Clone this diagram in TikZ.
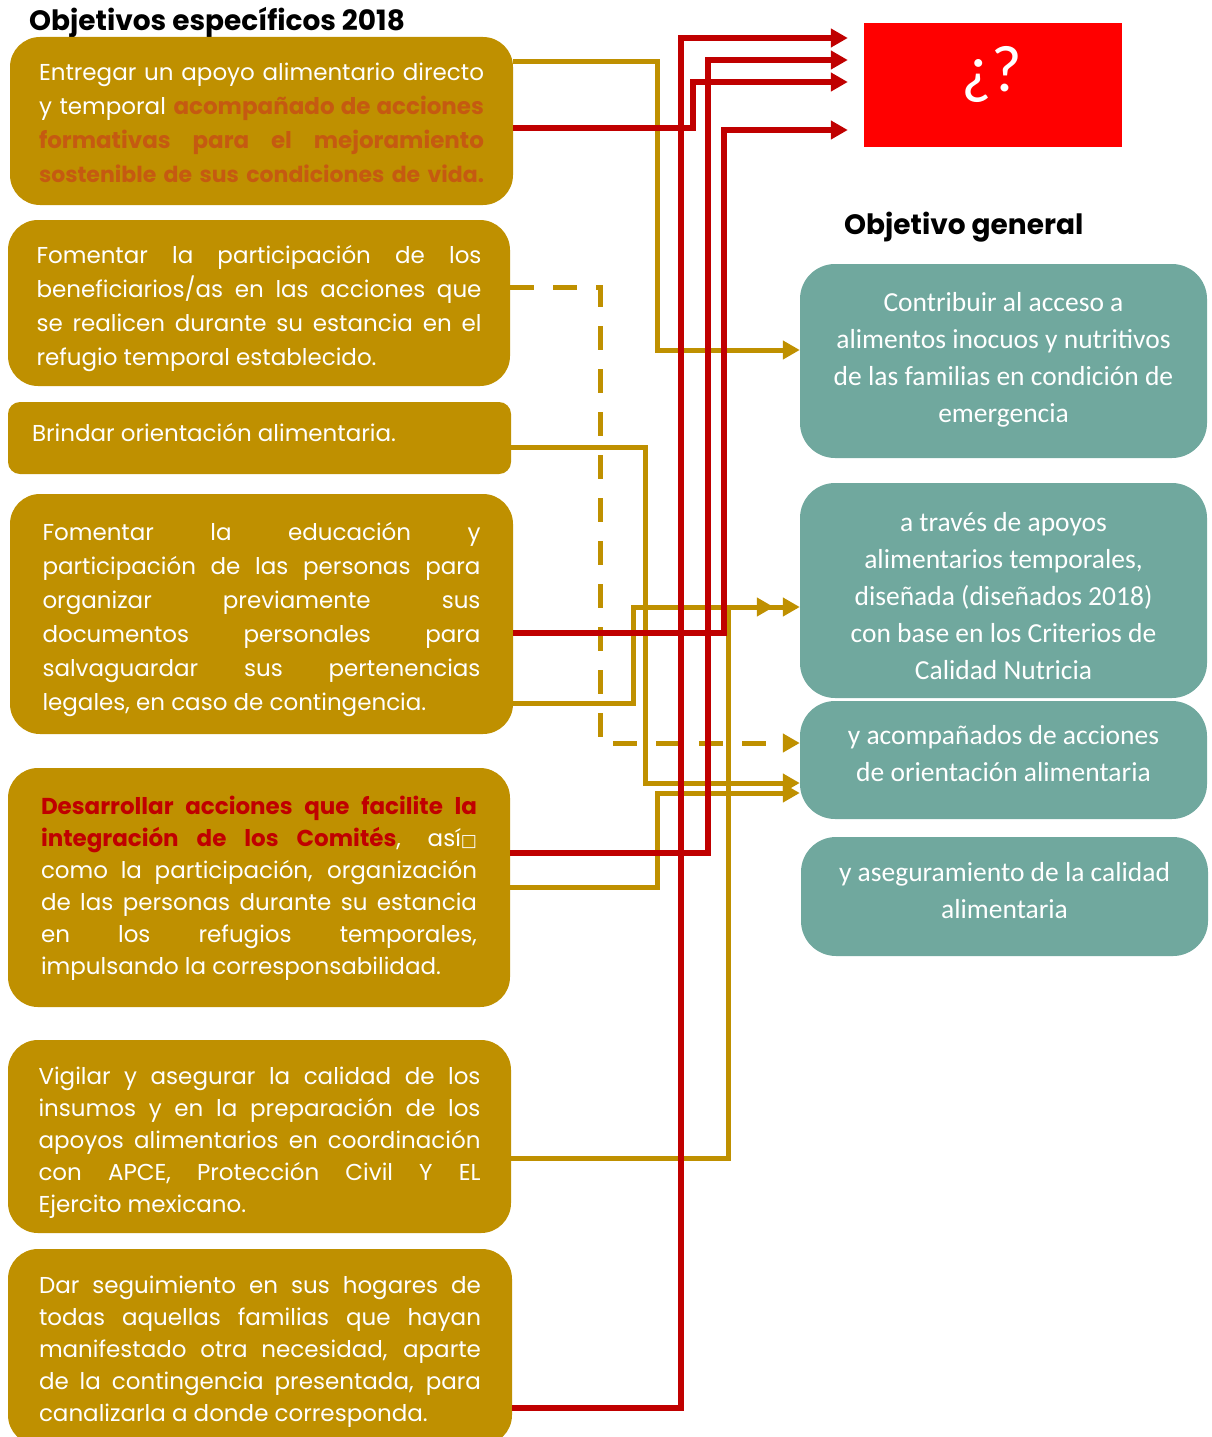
\documentclass[tikz,border=0pt]{standalone}
\usepackage{fontspec}
\setmainfont{Poppins}
\newfontfamily\calib{Carlito}
\newfontfamily\djv{DejaVu Sans}
\usetikzlibrary{arrows.meta}
\definecolor{gold}{HTML}{BF9000}
\definecolor{teal2}{HTML}{70A89E}
\definecolor{dred}{HTML}{C00000}
\definecolor{orng}{HTML}{C55A11}
\newcommand\jl[1]{\makebox[\linewidth][s]{#1}\\}
\newcommand\jlast[1]{\makebox[\linewidth][s]{#1}}
% centred teal text: #1 space above, #2 space below, #3 lines
\newcommand\tealtext[3]{\parbox{400pt}{\centering\vspace*{#1}#3\par\vspace*{#2}}}
\tikzset{
  gbox/.style={fill=gold, rounded corners=30pt, inner sep=0pt, text=white},
  tbox/.style={fill=teal2, rounded corners=35pt, inner sep=0pt, text=white,
    font=\calib\fontsize{27.5}{37}\selectfont},
  tip/.style={-{Triangle[length=17pt,width=18pt]}},
  gline/.style={draw=gold, line width=5pt, tip},
  rline/.style={draw=dred, line width=6pt, tip},
  ttl/.style={font=\bfseries\fontsize{28}{30}\selectfont, text=black, inner sep=0pt, anchor=base west},
  gt/.style={font=\fontsize{23}{34}\selectfont},
  gts/.style={font=\fontsize{23}{32}\selectfont},
}
\begin{document}
\begin{tikzpicture}[x=1pt,y=-1pt]
\useasboundingbox (0,0) rectangle (1211,1437);

% titles
\node[ttl] (title1) at (29,31) {Objetivos específicos 2018};
\node[ttl] (title2) at (844,234) {Objetivo general};

% golden boxes
\node[gbox, gt, minimum width=503pt, minimum height=168pt] (b1) at (261.5,121) {\parbox{445pt}{\vspace*{3pt}%
\jl{Entregar un apoyo alimentario directo}
\jl{y temporal {\bfseries\color{orng}acompañado de acciones}}
\jl{\bfseries\color{orng}formativas para el mejoramiento}
\jlast{\fontsize{22}{34}\selectfont\bfseries\color{orng}sostenible de sus condiciones de vida.}}};

\node[gbox, gt, minimum width=502pt, minimum height=166pt] (b2) at (259,303) {\parbox{445pt}{\vspace*{11pt}%
\jl{Fomentar la participación de los}
\jl{beneficiarios/as en las acciones que}
\jl{se realicen durante su estancia en el}
refugio temporal establecido.}};

\node[gbox, gt, rounded corners=12pt, minimum width=503pt, minimum height=72pt] (b3) at (259.5,438) {\parbox{455pt}{Brindar orientación alimentaria.\par\vspace*{10pt}}};

\node[gbox, gt, minimum width=503pt, minimum height=240pt] (b4) at (261.5,614) {\parbox{438pt}{\vspace*{12pt}%
\jl{Fomentar la educación y}
\jl{participación de las personas para}
\jl{organizar previamente sus}
\jl{documentos personales para}
\jl{salvaguardar sus pertenencias}
legales, en caso de contingencia.}};

\node[gbox, gts, minimum width=502pt, minimum height=239pt] (b5) at (259,887.5) {\parbox{436pt}{\vspace*{1pt}%
\jl{\bfseries\color{dred}Desarrollar acciones que facilite la}
\jl{{\bfseries\color{dred}integración de los Comités}, así{\djv\fontsize{17}{17}\selectfont □}}
\jl{como la participación, organización}
\jl{de las personas durante su estancia}
\jl{en los refugios temporales,}
impulsando la corresponsabilidad.}};

\node[gbox, gts, minimum width=503pt, minimum height=193pt] (b6) at (259.5,1136.5) {\parbox{442pt}{\vspace*{12pt}%
\jl{Vigilar y asegurar la calidad de los}
\jl{insumos y en la preparación de los}
\jl{apoyos alimentarios en coordinación}
\jl{con APCE, Protección Civil Y EL}
Ejercito mexicano.}};

\node[gbox, gts, minimum width=504pt, minimum height=196pt] (b7) at (260,1347) {\parbox{442pt}{\vspace*{10pt}%
\jl{Dar seguimiento en sus hogares de}
\jl{todas aquellas familias que hayan}
\jl{manifestado otra necesidad, aparte}
\jl{de la contingencia presentada, para}
canalizarla a donde corresponda.}};

% teal boxes
\node[tbox, minimum width=407pt, minimum height=194pt] (t1) at (1003.5,361) {\tealtext{0pt}{2pt}{Contribuir al acceso a\\alimentos inocuos y nutritivos\\de las familias en condición de\\emergencia}};
\node[tbox, minimum width=407pt, minimum height=215pt] (t2) at (1003.5,590.5) {\tealtext{11pt}{0pt}{a través de apoyos\\alimentarios temporales,\\diseñada (diseñados 2018)\\con base en los Criterios de\\Calidad Nutricia}};
\node[tbox, minimum width=407pt, minimum height=118pt] (t3) at (1003.5,760) {\tealtext{0pt}{12pt}{y acompañados de acciones\\de orientación alimentaria}};
\node[tbox, minimum width=407pt, minimum height=119pt] (t4) at (1004.5,896.5) {\tealtext{0pt}{12pt}{y aseguramiento de la calidad\\alimentaria}};

% red box
\node[fill=red, minimum width=258pt, minimum height=124pt, inner sep=0pt] (rb) at (993,85) {};
\node[text=white, font=\calib\fontsize{66}{66}\selectfont, inner sep=0pt] (q) at (992,74) {¿?};

% golden connectors
\draw[gline] ([yshift=59pt]b1.east) -- ++(144,0) |- ([yshift=11pt]t1.west);
\draw[gline, dash pattern=on 24pt off 19pt] ([yshift=16pt]b2.east) -- ++(90,0) |- ([yshift=17pt]t3.west);
\draw[gline] ([yshift=-9pt]b3.east) -- ++(134,0) |- ([yshift=-23pt]t3.west);
\draw[gline] ([yshift=-89pt]b4.east) -- ++(120,0) |- ([xshift=-26pt,yshift=-16.5pt]t2.west);
\draw[gline] (b5.east) -- ++(147,0) |- ([yshift=-33pt]t3.west);
\draw[gline] ([yshift=-21.5pt]b6.east) -- ++(217,0) |- ([yshift=-16.5pt]t2.west);

% red connectors
\draw[rline] ([yshift=-61pt]b7.east) -- ++(169,0) |- ([xshift=-16pt,yshift=47pt]rb.west);
\draw[rline] ([yshift=34.5pt]b5.east) -- ++(198,0) |- ([xshift=-16pt,yshift=25pt]rb.west);
\draw[rline] ([yshift=-7pt]b1.east) -- ++(180,0) |- ([xshift=-16pt,yshift=3pt]rb.west);
\draw[rline] ([yshift=-19pt]b4.east) -- ++(211,0) |- ([xshift=-16pt,yshift=-45pt]rb.west);
\end{tikzpicture}
\end{document}
